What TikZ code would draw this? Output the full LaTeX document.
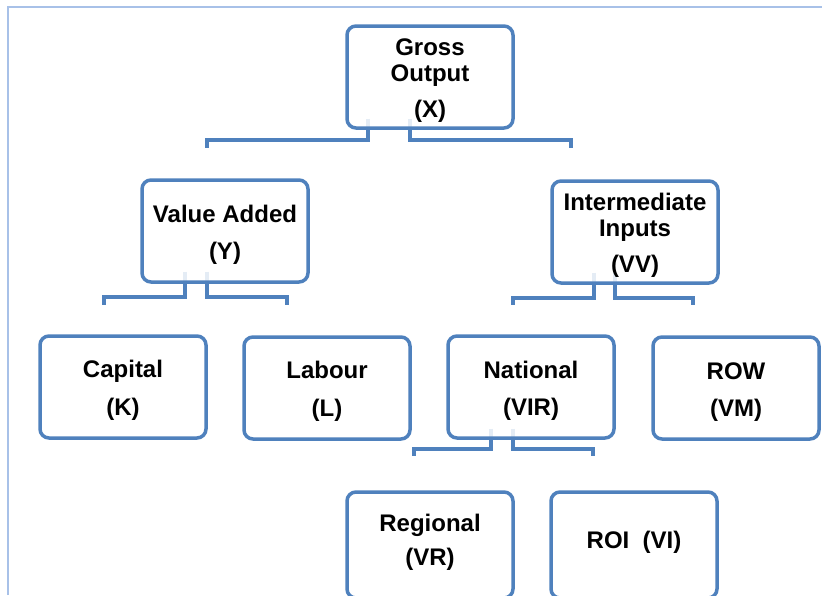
\documentclass[tikz,border=0pt]{standalone}
\usepackage{fontspec}
\setmainfont{Liberation Sans}
\usepackage{xcolor}
\usepackage{tikz}
\usetikzlibrary{backgrounds}
\definecolor{boxblue}{RGB}{79,129,189}
\definecolor{frameblue}{RGB}{168,193,232}
\newcommand{\lift}{\rule{0pt}{24pt}}
\newcommand{\drop}{\rule[-11pt]{0pt}{1pt}}

\begin{document}
\begin{tikzpicture}[x=1pt,y=-1pt,
  block/.style={rectangle,draw=boxblue,line width=3.5pt,rounded corners=9pt,
    fill=white,fill opacity=0.85,text opacity=1,
    minimum width=166pt,minimum height=102pt,align=center,
    font=\bfseries\fontsize{24}{26}\selectfont},
  link/.style={draw=boxblue,line width=3.5pt},
  frame/.style={draw=frameblue,line width=2pt}]
  \clip (0,0) rectangle (822,595);
  \draw[frame] (8,595) |- (822,7);
  \node[block] (gross) at (430,77) {\lift Gross\\Output\\[10pt](X)};
  \node[block] (vadd) at (225,231) {\lift Value Added\\[11pt](Y)};
  \node[block] (inter) at (635,232) {\lift Intermediate\\Inputs\\[10pt](VV)};
  \node[block] (capital) at (123,387) {\lift Capital\\[12pt](K)};
  \node[block] (labour) at (327,388) {\lift Labour\\[12pt](L)};
  \node[block] (national) at (531,387) {\lift National\\[11pt](VIR)};
  \node[block] (row) at (736,388) {\lift ROW\\[11pt](VM)};
  \node[block,minimum height=106pt] (regional) at (430,545) {Regional\\[8pt](VR)\drop};
  \node[block,minimum height=106pt] (roi) at (634,545) {ROI~~(VI)\drop};
  % connectors sit behind the boxes
  \begin{scope}[on background layer]
  \draw[link] ([xshift=-62pt,yshift=11pt]gross.south) -- ++(0,21)
    -| ([xshift=-18pt,yshift=30pt]vadd.north);
  \draw[link] ([xshift=-20pt,yshift=11pt]gross.south) -- ++(0,21)
    -| ([xshift=-64pt,yshift=31pt]inter.north);
  \draw[link] ([xshift=-40pt,yshift=12pt]vadd.south) -- ++(0,25)
    -| ([xshift=-19pt,yshift=29pt]capital.north);
  \draw[link] ([xshift=-18pt,yshift=12pt]vadd.south) -- ++(0,25)
    -| ([xshift=-40pt,yshift=30pt]labour.north);
  \draw[link] ([xshift=-41pt,yshift=12pt]inter.south) -- ++(0,25)
    -| ([xshift=-18pt,yshift=29pt]national.north);
  \draw[link] ([xshift=-20pt,yshift=12pt]inter.south) -- ++(0,25)
    -| ([xshift=-43pt,yshift=30pt]row.north);
  \draw[link] ([xshift=-40pt,yshift=11pt]national.south) -- ++(0,20)
    -| ([xshift=-16pt,yshift=34pt]regional.north);
  \draw[link] ([xshift=-18pt,yshift=11pt]national.south) -- ++(0,20)
    -| ([xshift=-41pt,yshift=34pt]roi.north);
  \end{scope}
\end{tikzpicture}
\end{document}
